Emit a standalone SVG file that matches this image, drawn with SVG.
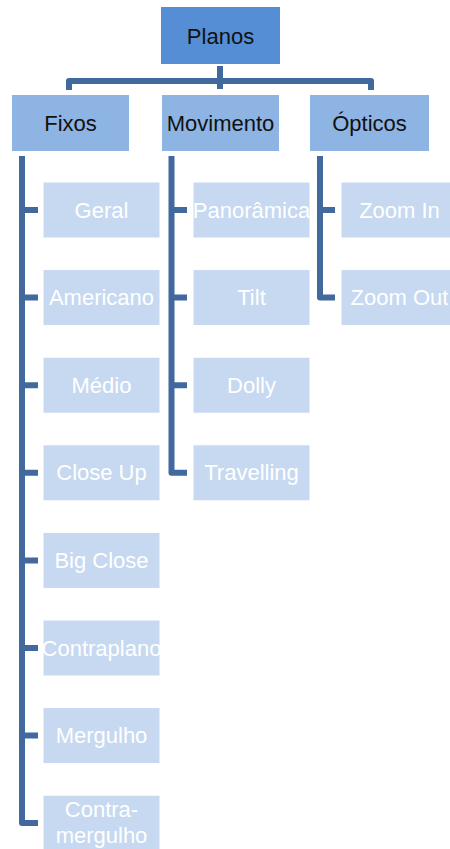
<svg xmlns="http://www.w3.org/2000/svg" width="450" height="849" viewBox="0 0 450 849">
  <style>
    .root { fill: #558ED5; }
    .cat { fill: #8EB4E3; }
    .leaf { fill: #C6D9F1; stroke: #FFFFFF; stroke-width: 1; }
    .t { font-family: "Liberation Sans", Arial, sans-serif; font-size: 22px; text-anchor: middle; }
    .dark { fill: #111111; }
    .light { fill: #FFFFFF; }
    .wire { fill: none; stroke: #41699E; stroke-width: 6; stroke-linejoin: round; stroke-linecap: butt; }
  </style>
  <rect width="450" height="849" fill="#FFFFFF"/>

  <g id="connectors">
    <!-- root to categories -->
    <path class="wire" d="M220 66 V89"/>
    <path class="wire" d="M69 90 V81 H371 V90"/>
    <!-- Fixos branch -->
    <path class="wire" d="M22 156 V823 H38"/>
    <path class="wire" d="M22 210 H38 M22 297.6 H38 M22 385.2 H38 M22 472.8 H38 M22 560.4 H38 M22 648 H38 M22 735.6 H38"/>
    <!-- Movimento branch -->
    <path class="wire" d="M171.5 156 V472.8 H187"/>
    <path class="wire" d="M171.5 210 H187 M171.5 297.6 H187 M171.5 385.2 H187"/>
    <!-- Ópticos branch -->
    <path class="wire" d="M320 156 V297.6 H335"/>
    <path class="wire" d="M320 210 H335"/>
  </g>

  <g id="planos">
    <rect class="root" x="161" y="7" width="119" height="57"/>
    <text class="t dark" x="220.5" y="43.5">Planos</text>
  </g>

  <g id="fixos">
    <rect class="cat" x="12" y="95" width="117" height="56"/>
    <text class="t dark" x="70.5" y="130.5">Fixos</text>
  </g>
  <g id="movimento">
    <rect class="cat" x="162" y="95" width="117" height="56"/>
    <text class="t dark" x="220.5" y="130.5">Movimento</text>
  </g>
  <g id="opticos">
    <rect class="cat" x="310" y="95" width="119" height="56"/>
    <text class="t dark" x="369.5" y="130.5">Ópticos</text>
  </g>

  <!-- Fixos children -->
  <g id="geral">
    <rect class="leaf" x="43" y="182" width="117" height="56"/>
    <text class="t light" x="101.5" y="217.5">Geral</text>
  </g>
  <g id="americano">
    <rect class="leaf" x="43" y="269.6" width="117" height="56"/>
    <text class="t light" x="101.5" y="305.1">Americano</text>
  </g>
  <g id="medio">
    <rect class="leaf" x="43" y="357.2" width="117" height="56"/>
    <text class="t light" x="101.5" y="392.7">Médio</text>
  </g>
  <g id="close-up">
    <rect class="leaf" x="43" y="444.8" width="117" height="56"/>
    <text class="t light" x="101.5" y="480.3">Close Up</text>
  </g>
  <g id="big-close">
    <rect class="leaf" x="43" y="532.4" width="117" height="56"/>
    <text class="t light" x="101.5" y="567.9">Big Close</text>
  </g>
  <g id="contraplano">
    <rect class="leaf" x="43" y="620" width="117" height="56"/>
    <text class="t light" x="101.5" y="655.5">Contraplano</text>
  </g>
  <g id="mergulho">
    <rect class="leaf" x="43" y="707.6" width="117" height="56"/>
    <text class="t light" x="101.5" y="743.1">Mergulho</text>
  </g>
  <g id="contra-mergulho">
    <rect class="leaf" x="43" y="795.2" width="117" height="56"/>
    <text class="t light" x="101.5" y="817">Contra-</text>
    <text class="t light" x="101.5" y="843">mergulho</text>
  </g>

  <!-- Movimento children -->
  <g id="panoramica">
    <rect class="leaf" x="193" y="182" width="117" height="56"/>
    <text class="t light" x="251.5" y="217.5">Panorâmica</text>
  </g>
  <g id="tilt">
    <rect class="leaf" x="193" y="269.6" width="117" height="56"/>
    <text class="t light" x="251.5" y="305.1">Tilt</text>
  </g>
  <g id="dolly">
    <rect class="leaf" x="193" y="357.2" width="117" height="56"/>
    <text class="t light" x="251.5" y="392.7">Dolly</text>
  </g>
  <g id="travelling">
    <rect class="leaf" x="193" y="444.8" width="117" height="56"/>
    <text class="t light" x="251.5" y="480.3">Travelling</text>
  </g>

  <!-- Ópticos children -->
  <g id="zoom-in">
    <rect class="leaf" x="341" y="182" width="117" height="56"/>
    <text class="t light" x="399.5" y="217.5">Zoom In</text>
  </g>
  <g id="zoom-out">
    <rect class="leaf" x="341" y="269.6" width="117" height="56"/>
    <text class="t light" x="399.5" y="305.1">Zoom Out</text>
  </g>
</svg>
